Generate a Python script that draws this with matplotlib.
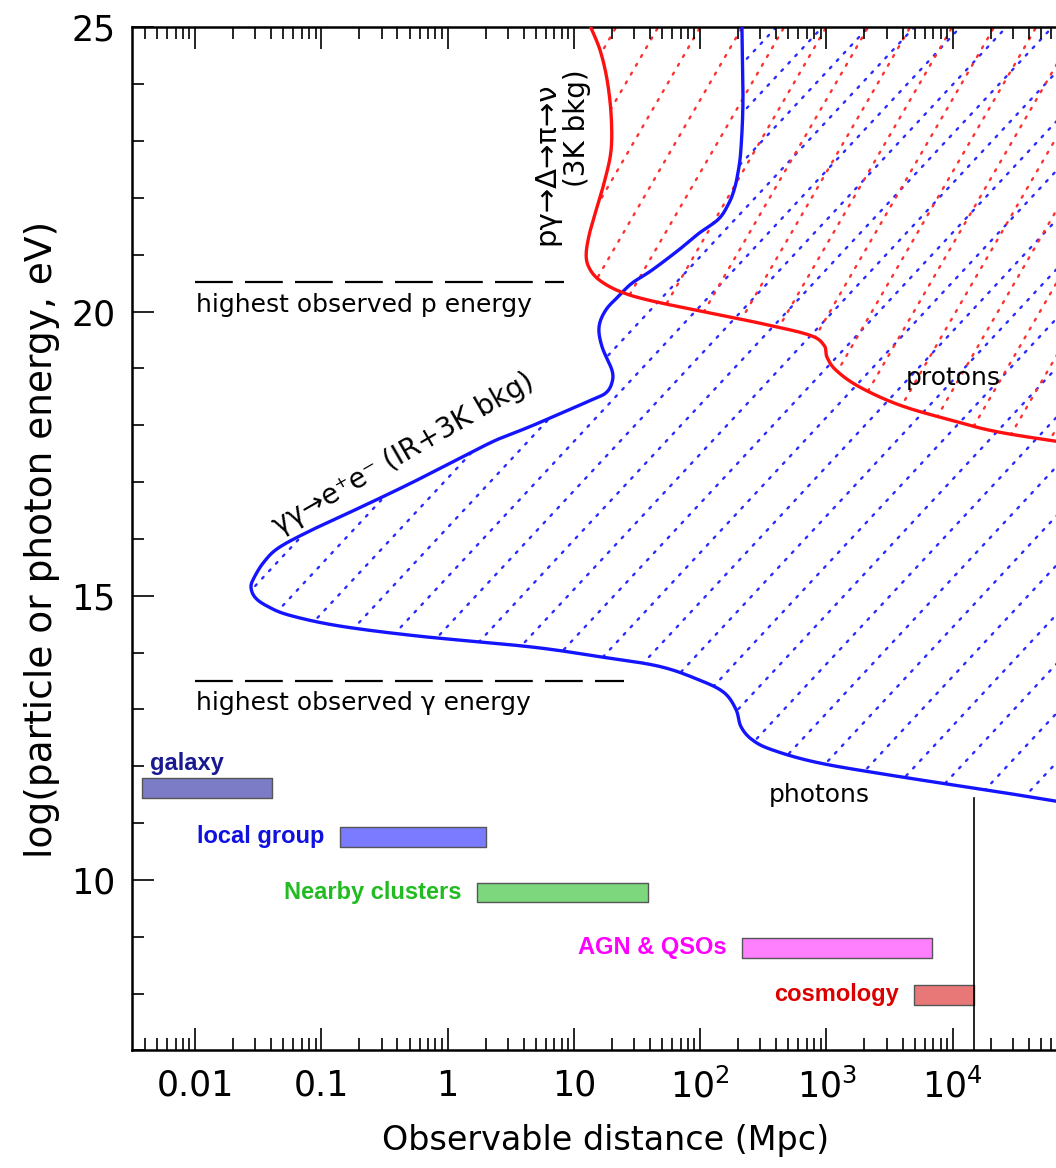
import numpy as np
import matplotlib
matplotlib.use("Agg")
import matplotlib.pyplot as plt
from matplotlib.patches import Polygon
from matplotlib.ticker import LogLocator, MultipleLocator, FixedLocator, FixedFormatter, NullFormatter

# ── Data ────────────────────────────────────────────────────
# gamma-gamma -> e+e- horizon for photons (distance Mpc, log E eV)
PHOT_D = [214, 218, 210, 199, 186, 168, 140, 98, 68, 41.5, 28.8, 22.8, 17.9,
          15.8, 16.7, 20.0, 20.0, 17.9, 13.9, 8.05, 4.41, 2.42, 1.30, 0.52,
          0.21, 0.0843, 0.0462, 0.0352, 0.0293, 0.0277, 0.0299, 0.0371,
          0.0554, 0.138, 0.594, 4.6, 15.8, 47.2, 98, 154, 192, 210, 257, 371,
          873, 3750, 23200, 1e5]
PHOT_E = [25.0, 23.72, 22.85, 22.44, 22.15, 21.90, 21.63, 21.38, 21.09, 20.73,
          20.50, 20.28, 20.03, 19.73, 19.38, 18.97, 18.75, 18.57, 18.45, 18.22,
          17.97, 17.74, 17.44, 16.99, 16.57, 16.16, 15.85, 15.60, 15.32, 15.15,
          14.97, 14.82, 14.66, 14.47, 14.29, 14.10, 13.93, 13.76, 13.52, 13.30,
          13.00, 12.70, 12.47, 12.29, 12.06, 11.82, 11.55, 11.32]

# p gamma -> Delta -> pi horizon for protons
PROT_D = [13.6, 16.1, 18.3, 19.7, 19.7, 17.6, 15.0, 13.2, 12.5, 13.2, 15.8,
          22.8, 39.3, 117, 292, 727, 955, 1009, 1189, 1808, 3750, 9330,
          23200, 1e5]
PROT_E = [25.0, 24.60, 24.08, 23.46, 22.85, 22.32, 21.79, 21.35, 21.00, 20.77,
          20.56, 20.36, 20.20, 19.98, 19.80, 19.59, 19.41, 19.20, 18.97, 18.68,
          18.36, 18.10, 17.88, 17.66]

# highest observed energies (log eV) and the distance span of the marker
P_MAX_E = 20.52
P_MAX_SPAN = [0.01, 8.3]
G_MAX_E = 13.5
G_MAX_SPAN = [0.01, 25]

# distance scales (Mpc): name, start, end, log E centre
SCALES = ["galaxy", "local group", "Nearby clusters", "AGN & QSOs", "cosmology"]
SCALE_LO = [0.0038, 0.14, 1.71, 214, 4930]
SCALE_HI = [0.0407, 2.0, 38.6, 6840, 14700]
SCALE_E = [11.62, 10.76, 9.78, 8.81, 7.98]
SCALE_FACE = ["#7b7bc6", "#7b7bff", "#7dd87d", "#ff80ff", "#e87878"]
SCALE_TEXT = ["#1a1a90", "#1010e0", "#22bb22", "#ff00ff", "#dd0000"]

HUBBLE_D = 14700  # vertical marker (Mpc)
HUBBLE_TOP = 11.45

XTICKS = [0.01, 0.1, 1, 10, 100, 1000, 10000]
XTICK_LABELS = ["0.01", "0.1", "1", "10", r"$10^2$", r"$10^3$", r"$10^4$"]

BLUE = "#1414ff"
RED = "#ff1010"

plt.rcParams["font.family"] = ["DejaVu Sans"]
plt.rcParams["mathtext.fontset"] = "dejavusans"


def smooth(d, e, n=12):
    """Catmull-Rom through the read points, in (log d, e) space."""
    lx = np.log10(d)
    p = np.column_stack([lx, e])
    p = np.vstack([p[0], p, p[-1]])
    out = []
    for i in range(1, len(p) - 2):
        p0, p1, p2, p3 = p[i - 1], p[i], p[i + 1], p[i + 2]
        for t in np.linspace(0, 1, n, endpoint=False):
            out.append(0.5 * ((2 * p1) + (-p0 + p2) * t
                              + (2 * p0 - 5 * p1 + 4 * p2 - p3) * t ** 2
                              + (-p0 + 3 * p1 - 3 * p2 + p3) * t ** 3))
    out.append(p[-2])
    out = np.array(out)
    return 10 ** out[:, 0], out[:, 1]


fig = plt.figure(figsize=(10.56, 11.68), dpi=100)
ax = fig.add_axes([0.125, 0.1006, 0.8968, 0.8759])
ax.set_xscale("log")
ax.set_xlim(10 ** -2.5, 1e5)
ax.set_ylim(7, 25)


def hatch(patch, angle_deg, spacing, phase, color):
    """Dotted diagonal lines (straight on screen) clipped to patch."""
    bb = ax.get_window_extent()
    W, H = bb.width, bb.height
    t = np.tan(np.radians(angle_deg))
    run = H / t
    for u0 in np.arange(-run + phase, W + spacing, spacing):
        ln, = ax.plot([u0 / W, (u0 + run) / W], [0, 1], transform=ax.transAxes,
                      color=color, lw=1.7, linestyle=(0, (0.9, 3.4)),
                      dash_capstyle="round", zorder=1)
        ln.set_clip_path(patch)


phot_x, phot_y = smooth(PHOT_D, PHOT_E)
prot_x, prot_y = smooth(PROT_D, PROT_E)

blue_poly = Polygon(list(zip(phot_x, phot_y)) + [(1e5, 25)], closed=True,
                    facecolor="none", edgecolor="none", transform=ax.transData)
red_poly = Polygon(list(zip(prot_x, prot_y)) + [(1e5, 25)], closed=True,
                   facecolor="none", edgecolor="none", transform=ax.transData)
ax.add_patch(blue_poly)
ax.add_patch(red_poly)
hatch(blue_poly, 47, 46, 0, "#2a2aff")
hatch(red_poly, 60, 42, 22, "#ff3030")

ax.plot(phot_x, phot_y, color=BLUE, lw=2.4, zorder=3)
ax.plot(prot_x, prot_y, color=RED, lw=2.4, zorder=3)

# highest observed energies
ax.plot(P_MAX_SPAN, [P_MAX_E] * 2, color="black", lw=1.6,
        linestyle=(0, (17, 5.5)))
ax.plot(G_MAX_SPAN, [G_MAX_E] * 2, color="black", lw=1.6,
        linestyle=(0, (17, 5.5)))
ax.text(0.0101, P_MAX_E - 0.2, "highest observed p energy", fontsize=18,
        va="top", ha="left")
ax.text(0.0101, G_MAX_E - 0.18, "highest observed γ energy", fontsize=18,
        va="top", ha="left")

# process labels
ax.text(0.45, 17.5, "γγ→e⁺e⁻ (IR+3K bkg)", fontsize=20, rotation=30,
        rotation_mode="anchor", ha="center", va="center")
ax.text(6.0, 22.6, "pγ→Δ→π→ν", fontsize=21, rotation=90,
        ha="center", va="center")
ax.text(10.6, 23.23, "(3K bkg)", fontsize=20, rotation=90,
        ha="center", va="center")
ax.text(1.0e4, 18.83, "protons", fontsize=18, ha="center", va="center")
ax.text(871, 11.5, "photons", fontsize=18, ha="center", va="center")

# distance scale bars
for name, lo, hi, e, fc, tc in zip(SCALES, SCALE_LO, SCALE_HI, SCALE_E,
                                   SCALE_FACE, SCALE_TEXT):
    ax.fill_between([lo, hi], e - 0.175, e + 0.175, facecolor=fc,
                    edgecolor="#555555", lw=1, zorder=2)
    if name == "galaxy":
        ax.annotate(name, xy=(lo, e + 0.175), xytext=(6, 2),
                    textcoords="offset points", ha="left", va="bottom",
                    color=tc, fontsize=17, fontweight="bold",
                    family="Liberation Sans")
    else:
        ax.annotate(name, xy=(lo, e), xytext=(-11, 0),
                    textcoords="offset points", ha="right", va="center",
                    color=tc, fontsize=17, fontweight="bold",
                    family="Liberation Sans")

ax.plot([HUBBLE_D, HUBBLE_D], [7, HUBBLE_TOP], color="black", lw=1.2)

# axes styling
ax.xaxis.set_major_locator(FixedLocator(XTICKS + [1e5]))
ax.xaxis.set_major_formatter(FixedFormatter(XTICK_LABELS + [""]))
ax.xaxis.set_minor_locator(LogLocator(base=10, subs=np.arange(2, 10), numticks=20))
ax.xaxis.set_minor_formatter(NullFormatter())
ax.yaxis.set_major_locator(MultipleLocator(5))
ax.yaxis.set_minor_locator(MultipleLocator(1))
ax.tick_params(which="both", direction="in", top=True, right=True,
               labelsize=25, width=1.2)
ax.tick_params(which="major", length=16, pad=12)
ax.tick_params(which="minor", length=8.5)
ax.tick_params(axis="x", pad=13)
for sp in ax.spines.values():
    sp.set_linewidth(1.8)

ax.set_xlabel("Observable distance (Mpc)", fontsize=24, labelpad=14)
ax.set_ylabel("log(particle or photon energy, eV)", fontsize=27, labelpad=8)

fig.savefig("out.png", dpi=100)
